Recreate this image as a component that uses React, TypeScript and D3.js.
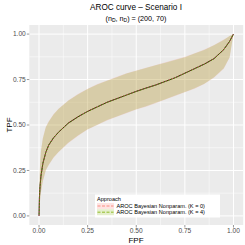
import * as d3 from 'd3';

// FPF grid shared by both approaches
const fpf = [0, 0.002, 0.005, 0.01, 0.02, 0.035, 0.05, 0.075, 0.1, 0.15, 0.2, 0.25, 0.3, 0.35, 0.4, 0.45, 0.5, 0.55, 0.6, 0.65, 0.7, 0.75, 0.8, 0.85, 0.9, 0.95, 0.98, 1];

// true AROC curve (black)
const tpfTrue = [0, 0.1, 0.16, 0.22, 0.29, 0.35, 0.39, 0.43, 0.46, 0.51, 0.545, 0.575, 0.6, 0.625, 0.645, 0.665, 0.685, 0.703, 0.72, 0.74, 0.76, 0.785, 0.81, 0.835, 0.865, 0.915, 0.96, 1];

// AROC Bayesian Nonparam. (K = 0)
const tpfK0 = [0, 0.1, 0.16, 0.22, 0.29, 0.35, 0.39, 0.43, 0.461, 0.511, 0.546, 0.576, 0.601, 0.626, 0.646, 0.666, 0.686, 0.704, 0.721, 0.741, 0.761, 0.786, 0.811, 0.836, 0.866, 0.915, 0.96, 1];
const lowK0 = [0, 0.04, 0.08, 0.13, 0.19, 0.25, 0.28, 0.32, 0.35, 0.4, 0.44, 0.475, 0.5, 0.525, 0.545, 0.565, 0.585, 0.6, 0.62, 0.64, 0.66, 0.68, 0.7, 0.725, 0.76, 0.81, 0.87, 1];
const highK0 = [0, 0.18, 0.28, 0.36, 0.43, 0.49, 0.52, 0.56, 0.59, 0.635, 0.67, 0.7, 0.725, 0.745, 0.765, 0.785, 0.8, 0.815, 0.83, 0.845, 0.86, 0.875, 0.895, 0.915, 0.94, 0.97, 0.99, 1];

// AROC Bayesian Nonparam. (K = 4)
const tpfK4 = [0, 0.1, 0.16, 0.22, 0.29, 0.35, 0.39, 0.43, 0.459, 0.509, 0.544, 0.574, 0.599, 0.624, 0.644, 0.664, 0.684, 0.702, 0.719, 0.739, 0.759, 0.784, 0.809, 0.834, 0.864, 0.914, 0.96, 1];
const lowK4 = [0, 0.04, 0.08, 0.135, 0.195, 0.252, 0.282, 0.322, 0.352, 0.402, 0.442, 0.477, 0.502, 0.527, 0.547, 0.567, 0.587, 0.603, 0.622, 0.642, 0.662, 0.682, 0.702, 0.727, 0.762, 0.812, 0.872, 1];
const highK4 = [0, 0.178, 0.277, 0.357, 0.427, 0.487, 0.518, 0.558, 0.588, 0.633, 0.668, 0.698, 0.723, 0.743, 0.763, 0.783, 0.798, 0.813, 0.828, 0.843, 0.858, 0.873, 0.893, 0.913, 0.938, 0.968, 0.99, 1];

const ticks = [0, 0.25, 0.5, 0.75, 1];
const tickLabels = ['0.00', '0.25', '0.50', '0.75', '1.00'];
const minorTicks = [0.125, 0.375, 0.625, 0.875];

const legendTitle = 'Approach';
const legendLabels = ['AROC Bayesian Nonparam. (K = 0)', 'AROC Bayesian Nonparam. (K = 4)'];
const colors = ['#F8766D', '#7CAE00'];

const width = 245;
const height = 245;
const panel = { left: 29.3, right: 243.2, top: 25, bottom: 225 };
const font = 'Liberation Sans, Arial, sans-serif';

const App = () => {
  const x = d3.scaleLinear().domain([-0.05, 1.05]).range([panel.left, panel.right]);
  const y = d3.scaleLinear().domain([-0.05, 1.05]).range([panel.bottom, panel.top]);

  const line = d3.line<number>().x((_, i) => x(fpf[i])).y(d => y(d));
  const band = (lo: number[], hi: number[]) =>
    d3.area<number>().x((_, i) => x(fpf[i])).y0((_, i) => y(lo[i])).y1((_, i) => y(hi[i]))(fpf) ?? '';

  const series = [
    { tpf: tpfK0, lo: lowK0, hi: highK0 },
    { tpf: tpfK4, lo: lowK4, hi: highK4 },
  ];

  const lx = 95;
  const ly = 194.5;

  return (
    <svg width={width} height={height} style={{ position: 'absolute', left: 0, top: 0, background: '#fff' }} fontFamily={font}>
      <text x={136} y={10} textAnchor="middle" fontSize={8.2}>AROC curve – Scenario I</text>
      <text x={136} y={20.5} textAnchor="middle" fontSize={7.2}>
        (n<tspan fontSize={5} dy={1.8}>D̄</tspan><tspan dy={-1.8}>, n</tspan><tspan fontSize={5} dy={1.8}>D</tspan><tspan dy={-1.8}>) = (200, 70)</tspan>
      </text>

      <rect x={panel.left} y={panel.top} width={panel.right - panel.left} height={panel.bottom - panel.top} fill="#EBEBEB" />
      {minorTicks.map(t => (
        <g key={'m' + t} stroke="#fff" strokeWidth={0.5}>
          <line x1={x(t)} x2={x(t)} y1={panel.top} y2={panel.bottom} />
          <line x1={panel.left} x2={panel.right} y1={y(t)} y2={y(t)} />
        </g>
      ))}
      {ticks.map(t => (
        <g key={'M' + t} stroke="#fff" strokeWidth={1}>
          <line x1={x(t)} x2={x(t)} y1={panel.top} y2={panel.bottom} />
          <line x1={panel.left} x2={panel.right} y1={y(t)} y2={y(t)} />
        </g>
      ))}

      {series.map((s, i) => (
        <path key={'b' + i} d={band(s.lo, s.hi)} fill={colors[i]} fillOpacity={0.2} />
      ))}
      <path d={line(tpfTrue) ?? ''} fill="none" stroke="#000" strokeWidth={1} />
      {series.map((s, i) => (
        <path key={'l' + i} d={line(s.tpf) ?? ''} fill="none" stroke={colors[i]} strokeWidth={0.7} strokeDasharray="1.6,1.6" strokeDashoffset={i * 1.6} />
      ))}

      {ticks.map((t, i) => (
        <g key={'t' + t} fill="#4D4D4D" fontSize={6.6}>
          <line x1={x(t)} x2={x(t)} y1={panel.bottom} y2={panel.bottom + 2.5} stroke="#333" strokeWidth={0.5} />
          <text x={x(t)} y={panel.bottom + 8.2} textAnchor="middle">{tickLabels[i]}</text>
          <line x1={panel.left - 2.5} x2={panel.left} y1={y(t)} y2={y(t)} stroke="#333" strokeWidth={0.5} />
          <text x={panel.left - 3.5} y={y(t) + 2.3} textAnchor="end">{tickLabels[i]}</text>
        </g>
      ))}
      <text x={136} y={242.5} textAnchor="middle" fontSize={8}>FPF</text>
      <text transform={`translate(11.5,${(panel.top + panel.bottom) / 2}) rotate(-90)`} textAnchor="middle" fontSize={8}>TPF</text>

      <rect x={lx} y={ly} width={125} height={23} fill="#fff" />
      <text x={lx + 2} y={ly + 6.5} fontSize={5.6}>{legendTitle}</text>
      {legendLabels.map((lab, i) => (
        <g key={lab}>
          <rect x={lx + 2} y={ly + 8.5 + i * 6.2} width={17} height={6} fill="#fff" />
          <rect x={lx + 2} y={ly + 8.5 + i * 6.2} width={17} height={6} fill={colors[i]} fillOpacity={0.2} />
          <line x1={lx + 2.5} x2={lx + 18.5} y1={ly + 11.5 + i * 6.2} y2={ly + 11.5 + i * 6.2} stroke={colors[i]} strokeWidth={0.8} strokeDasharray="3,1.5" />
          <text x={lx + 21.5} y={ly + 13.5 + i * 6.2} fontSize={5.6}>{lab}</text>
        </g>
      ))}
    </svg>
  );
};

export default App;
